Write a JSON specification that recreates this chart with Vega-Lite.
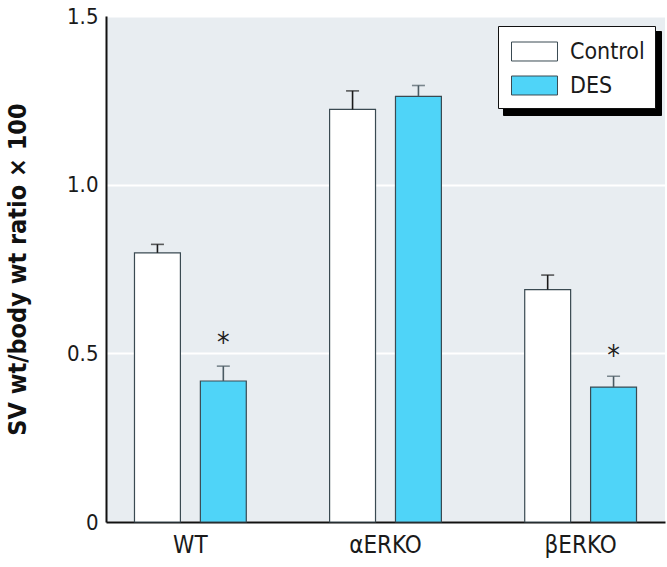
{
  "$schema": "https://vega.github.io/schema/vega-lite/v6.json",
  "autosize": {"type": "none"},
  "padding": {"left": 106, "top": 16, "right": 2, "bottom": 45},
  "width": 559,
  "height": 506,
  "background": "white",
  "data": {
    "values": [
      {"group": "WT", "treatment": "Control", "mean": 0.798, "upper": 0.823, "star": null},
      {"group": "WT", "treatment": "DES", "mean": 0.418, "upper": 0.462, "star": 0.539},
      {"group": "αERKO", "treatment": "Control", "mean": 1.223, "upper": 1.278, "star": null},
      {"group": "αERKO", "treatment": "DES", "mean": 1.262, "upper": 1.294, "star": null},
      {"group": "βERKO", "treatment": "Control", "mean": 0.689, "upper": 0.732, "star": null},
      {"group": "βERKO", "treatment": "DES", "mean": 0.4, "upper": 0.432, "star": 0.502}
    ]
  },
  "encoding": {
    "x": {
      "field": "group",
      "type": "nominal",
      "sort": null,
      "scale": {"paddingInner": 0.427, "paddingOuter": 0.146},
      "axis": {
        "title": null,
        "labelAngle": 0,
        "labelFontSize": 24,
        "labelColor": "#1a1a1a",
        "labelPadding": 11,
        "ticks": false,
        "domainColor": "#111",
        "domainWidth": 2
      }
    },
    "xOffset": {
      "field": "treatment",
      "type": "nominal",
      "scale": {"paddingInner": 0.303, "paddingOuter": 0}
    }
  },
  "layer": [
    {
      "mark": {"type": "bar", "stroke": "#3a4a52", "strokeWidth": 1.2},
      "encoding": {
        "y": {
          "field": "mean",
          "type": "quantitative",
          "scale": {"domain": [0, 1.5], "nice": false},
          "axis": {
            "title": "SV wt/body wt ratio × 100",
            "titleFontSize": 25,
            "titleFontWeight": "bold",
            "titleColor": "#111",
            "titlePadding": 36,
            "values": [0, 0.5, 1, 1.5],
            "labelExpr": "datum.value == 0 ? '0' : format(datum.value, '.1f')",
            "labelFontSize": 22,
            "labelColor": "#1a1a1a",
            "labelPadding": 8,
            "ticks": false,
            "grid": true,
            "gridColor": "white",
            "gridWidth": 2,
            "domainColor": "#111",
            "domainWidth": 2
          }
        },
        "fill": {
          "field": "treatment",
          "type": "nominal",
          "scale": {"domain": ["Control", "DES"], "range": ["#ffffff", "#4fd4f8"]},
          "legend": {
            "title": null,
            "orient": "none",
            "legendX": 392,
            "legendY": 10,
            "zindex": 2,
            "fillColor": "white",
            "strokeColor": "#111",
            "padding": 10,
            "symbolType": "M-1.533,-0.633H1.533V0.633H-1.533Z",
            "symbolSize": 900,
            "symbolOffset": 11,
            "symbolStrokeColor": "#3a4a52",
            "symbolStrokeWidth": 1,
            "labelFontSize": 23,
            "labelColor": "#1a1a1a",
            "labelOffset": 20,
            "rowPadding": 6
          }
        }
      }
    },
    {
      "mark": {"type": "rule", "strokeWidth": 1.6},
      "encoding": {
        "y": {"field": "mean", "type": "quantitative"},
        "y2": {"field": "upper"},
        "color": {
          "field": "treatment",
          "type": "nominal",
          "scale": {"range": ["#1a1a1a", "#4a5a62"]},
          "legend": {
            "title": null,
            "orient": "none",
            "legendX": 397,
            "legendY": 15,
            "zindex": 1,
            "fillColor": "black",
            "strokeColor": "black",
            "padding": 10,
            "symbolType": "M-1.533,-0.633H1.533V0.633H-1.533Z",
            "symbolSize": 900,
            "symbolOffset": 11,
            "labelFontSize": 23,
            "labelColor": "black",
            "labelOpacity": 0,
            "labelOffset": 20,
            "rowPadding": 6
          }
        }
      }
    },
    {
      "mark": {"type": "tick", "size": 13, "thickness": 1.6},
      "encoding": {
        "y": {"field": "upper", "type": "quantitative"},
        "color": {"field": "treatment", "type": "nominal"}
      }
    },
    {
      "transform": [{"filter": "datum.star != null"}],
      "mark": {"type": "text", "text": "*", "fontSize": 28, "baseline": "middle", "dy": 4, "color": "#222"},
      "encoding": {
        "y": {"field": "star", "type": "quantitative"}
      }
    }
  ],
  "config": {
    "font": "DejaVu Sans Condensed, sans-serif",
    "view": {"fill": "#e8edf1", "stroke": null}
  }
}
